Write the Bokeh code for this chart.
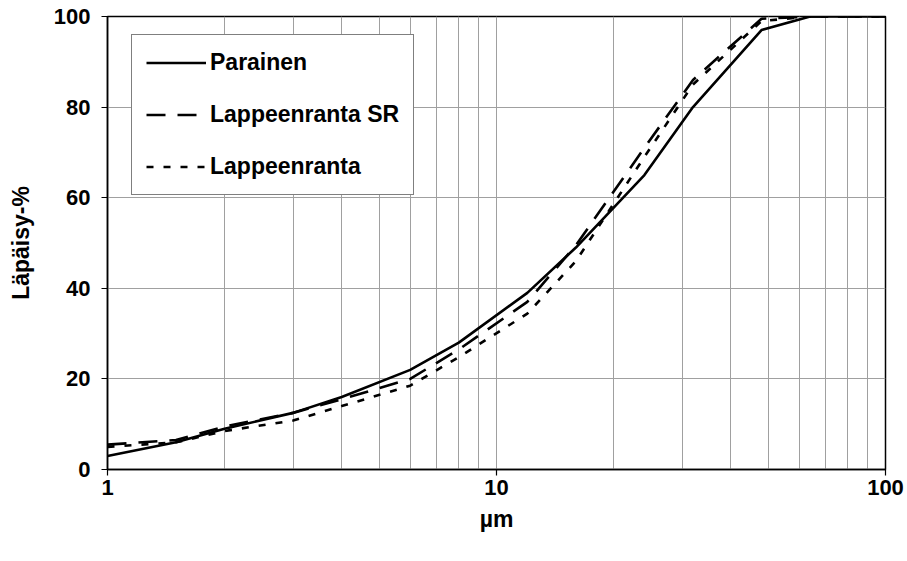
from bokeh.plotting import figure
from bokeh.models import FixedTicker, Legend, LegendItem, Range1d
from bokeh.embed import file_html
from bokeh.resources import INLINE

# particle size (µm)
sizes = [1, 1.5, 2, 3, 4, 6, 8, 12, 16, 24, 32, 48, 64, 96, 128]
# cumulative passing (%)
parainen = [3, 6, 9, 12.5, 16, 22, 28, 39, 49, 65, 80, 97, 100, 100, 100]
lappeenranta_sr = [5.5, 6.5, 9.5, 12.5, 15.5, 20, 26.5, 37, 49.5, 71, 86, 99.5, 100, 100, 100]
lappeenranta = [5, 6, 8.5, 10.8, 14, 18.5, 24.8, 34.4, 46, 69, 85, 99, 100, 100, 100]

x_major = [1, 10, 100]
x_minor = [2, 3, 4, 5, 6, 7, 8, 9, 20, 30, 40, 50, 60, 70, 80, 90]
y_ticks = [0, 20, 40, 60, 80, 100]

FONT = "Liberation Sans"

p = figure(width=907, height=561, x_axis_type="log",
           x_range=Range1d(1, 100), y_range=Range1d(0, 100),
           output_backend="svg", toolbar_location=None,
           min_border_left=107, min_border_right=22,
           min_border_top=16, min_border_bottom=92)
p.background_fill_color = "white"
p.border_fill_color = "white"
p.outline_line_color = "black"
p.outline_line_width = 1.5

r1 = p.line(sizes, parainen, line_color="black", line_width=2.6)
r2 = p.line(sizes, lappeenranta_sr, line_color="black", line_width=2.6, line_dash="19 12")
r3 = p.line(sizes, lappeenranta, line_color="black", line_width=2.6, line_dash="7 10")

# axes
xa = p.xaxis[0]
xa.ticker = FixedTicker(ticks=x_major, minor_ticks=x_minor)
xa.major_label_overrides = {1: "1", 10: "10", 100: "100"}
xa.axis_label = "µm"
ya = p.yaxis[0]
ya.ticker = FixedTicker(ticks=y_ticks)
ya.axis_label = "Läpäisy-%"

for ax in (xa, ya):
    ax.axis_line_color = "black"
    ax.axis_line_width = 1.5
    ax.major_tick_line_color = "black"
    ax.major_tick_line_width = 1.2
    ax.major_tick_out = 6
    ax.major_tick_in = 0
    ax.minor_tick_out = 0
    ax.minor_tick_in = 0
    ax.major_label_text_font = FONT
    ax.major_label_text_font_style = "bold"
    ax.major_label_text_font_size = "22px"
    ax.major_label_text_color = "black"
    ax.axis_label_text_font = FONT
    ax.axis_label_text_font_style = "bold"
    ax.axis_label_text_font_size = "23px"
    ax.axis_label_text_color = "black"

xa.major_label_standoff = 4
xa.axis_label_standoff = 8
ya.major_label_standoff = 11
ya.axis_label_standoff = 17

# grid
p.xgrid.grid_line_color = "#a0a0a0"
p.xgrid.grid_line_width = 1
p.xgrid.minor_grid_line_color = "#a0a0a0"
p.xgrid.minor_grid_line_width = 1
p.ygrid.grid_line_color = "#a0a0a0"
p.ygrid.grid_line_width = 1

legend = Legend(items=[
    LegendItem(label="Parainen", renderers=[r1]),
    LegendItem(label="Lappeenranta SR", renderers=[r2]),
    LegendItem(label="Lappeenranta", renderers=[r3]),
], location=(24, 274))
legend.margin = 0
legend.padding = 14
legend.spacing = 25
legend.glyph_width = 60
legend.glyph_height = 27
legend.label_height = 27
legend.label_standoff = 4
legend.label_text_font = FONT
legend.label_text_font_style = "bold"
legend.label_text_font_size = "23px"
legend.label_text_color = "black"
legend.border_line_color = "black"
legend.border_line_width = 1.2
legend.background_fill_color = "white"
legend.background_fill_alpha = 1
p.add_layout(legend, "center")

open("out.html", "w").write(file_html(p, INLINE))
